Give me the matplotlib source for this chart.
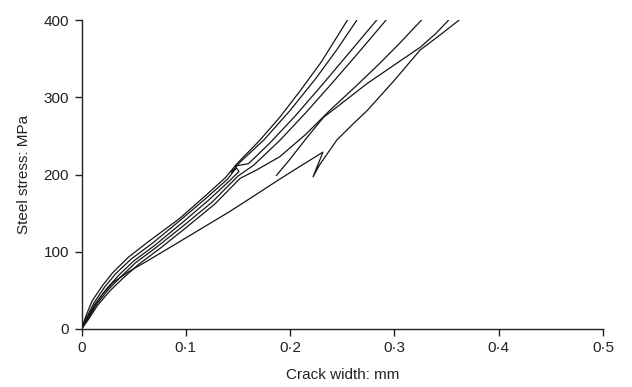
import matplotlib
matplotlib.use("Agg")
import matplotlib.pyplot as plt

plt.rcParams['font.family'] = ['Liberation Sans', 'DejaVu Sans']

# Crack width (mm) and steel stress (MPa), one pair of lists per test
c1_w = [0, 0.004, 0.01, 0.02, 0.03, 0.045, 0.065, 0.094, 0.12, 0.138, 0.149, 0.17, 0.19, 0.21, 0.23, 0.255]
c1_s = [0, 16, 36, 56, 73, 93, 114, 143, 174, 196, 214, 243, 274, 309, 346, 400]
c2_w = [0, 0.005, 0.012, 0.022, 0.033, 0.048, 0.068, 0.094, 0.12, 0.14, 0.148, 0.144, 0.152,
        0.175, 0.2, 0.225, 0.245, 0.264]
c2_s = [0, 15, 34, 54, 72, 91, 111, 140, 170, 194, 208, 203, 216,
        245, 283, 325, 362, 400]
c3_w = [0, 0.006, 0.013, 0.024, 0.036, 0.05, 0.07, 0.096, 0.122, 0.142, 0.151, 0.147, 0.16,
        0.18, 0.205, 0.23, 0.255, 0.283]
c3_s = [0, 14, 32, 52, 70, 88, 108, 137, 167, 192, 204, 211, 214,
        240, 276, 315, 355, 400]
c4_w = [0, 0.006, 0.014, 0.025, 0.038, 0.052, 0.072, 0.098, 0.125, 0.15, 0.165, 0.19, 0.215, 0.24, 0.265, 0.292]
c4_s = [0, 13, 31, 50, 68, 86, 106, 134, 164, 198, 212, 244, 280, 318, 357, 400]
d_w = [0, 0.007, 0.015, 0.027, 0.04, 0.055, 0.075, 0.1, 0.128, 0.152, 0.168, 0.19, 0.215, 0.238, 0.262, 0.286, 0.305, 0.326]
d_s = [0, 13, 30, 49, 66, 84, 104, 131, 162, 195, 206, 223, 252, 283, 313, 344, 370, 400]
e_w = [0.187, 0.2, 0.215, 0.232, 0.255, 0.274, 0.3, 0.325, 0.34, 0.352]
e_s = [199, 220, 246, 274, 298, 318, 342, 365, 383, 400]
a_w = [0, 0.005, 0.012, 0.02, 0.03, 0.045, 0.063, 0.094, 0.126, 0.142, 0.165, 0.19, 0.21, 0.2315,
       0.222, 0.228, 0.245, 0.26, 0.274, 0.3, 0.3245, 0.345, 0.362]
a_s = [0, 14, 30, 45, 60, 74, 88, 113, 139, 152, 172, 194, 211, 229,
       197, 212, 245, 265, 283, 322, 361, 382, 400]

series = [(c1_w, c1_s), (c2_w, c2_s), (c3_w, c3_s), (c4_w, c4_s), (d_w, d_s), (e_w, e_s), (a_w, a_s)]

x_ticks = [0, 0.1, 0.2, 0.3, 0.4, 0.5]
x_tick_labels = ['0', '0·1', '0·2', '0·3', '0·4', '0·5']
y_ticks = [0, 100, 200, 300, 400]

fig = plt.figure(figsize=(6.32, 3.87), dpi=100)
ax = fig.add_axes([0.129, 0.150, 0.825, 0.798])

for w, s in series:
    ax.plot(w, s, color='#151515', lw=0.9)

ax.set_xlim(0, 0.5)
ax.set_ylim(0, 400)
ax.set_xticks(x_ticks)
ax.set_xticklabels(x_tick_labels)
ax.set_yticks(y_ticks)
for side in ['top', 'right']:
    ax.spines[side].set_visible(False)
for side in ['left', 'bottom']:
    ax.spines[side].set_linewidth(1.0)
    ax.spines[side].set_color('#222222')
ax.tick_params(axis='both', direction='out', length=5, width=1.0, labelsize=11, colors='#222222', pad=4)
ax.set_xlabel('Crack width: mm', fontsize=11, color='#222222', labelpad=9)
ax.set_ylabel('Steel stress: MPa', fontsize=11, color='#222222', labelpad=9)

fig.savefig('out.png', dpi=100)
